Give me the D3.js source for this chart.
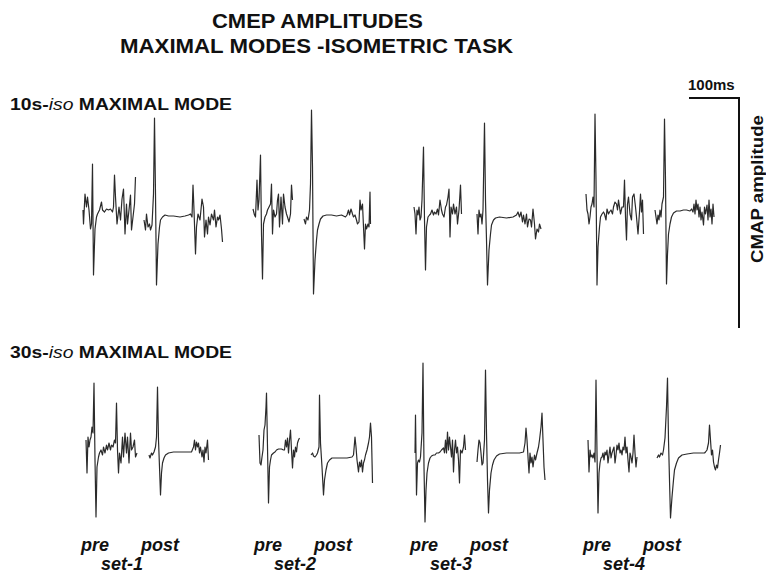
<!DOCTYPE html>
<html>
<head>
<meta charset="utf-8">
<script src="https://cdn.jsdelivr.net/npm/d3@7"></script>
<style>
  body { margin: 0; background: #fff; }
  text { font-family: "Liberation Sans", Arial, sans-serif; font-weight: bold; fill: #111; }
</style>
</head>
<body>
<svg width="766" height="578"></svg>
<script>
// categories
var rows = ["10s", "30s"];
var sets = ["set-1", "set-2", "set-3", "set-4"];
var phases = ["pre", "post"];

// traces: [time (ms), amplitude (a.u.)]
var iso10_set1_pre = [[0,2],[1,-12],[4,18],[7,5],[9,15],[12,2],[15,-17],[17,-12],[19,48],[21,-63],[24,-17],[27,-5],[29,-2],[33,2],[37,10],[39,2],[43,0],[47,3],[51,2],[55,3],[59,0],[61,5],[63,37],[65,15],[68,-12],[72,5],[75,-8],[78,13],[81,23],[84,-22],[87,8],[89,-12],[92,2],[95,17],[97,-18],[100,-5],[103,8],[105,35]];
var iso10_set1_post = [[0,-8],[3,-18],[5,-2],[8,-15],[11,-12],[13,-18],[16,-13],[19,18],[21,94],[23,18],[25,-73],[28,-32],[31,-15],[33,-8],[37,-5],[42,-3],[49,-4],[59,-4],[72,-5],[82,-4],[89,-3],[93,-2],[96,-5],[98,27],[100,2],[103,-42],[105,-15],[108,-2],[112,-8],[116,13],[119,5],[121,-25],[124,-8],[127,-22],[129,-5],[132,-13],[135,-2],[139,-8],[141,2],[144,-15],[147,-5],[149,-8],[152,-3],[155,-17],[157,-30]];
var iso10_set2_pre = [[0,3],[3,-3],[5,-5],[8,32],[10,2],[12,12],[15,57],[17,-22],[19,-67],[21,-12],[24,-5],[27,-2],[29,2],[32,5],[35,8],[37,28],[39,-22],[41,2],[44,-5],[47,-2],[49,12],[51,18],[53,-15],[56,15],[59,-12],[61,18],[64,5],[67,-2],[69,-5],[72,-10],[75,-2],[77,27],[79,12]];
var iso10_set2_post = [[0,-7],[3,-12],[5,-5],[8,-8],[11,2],[13,28],[15,102],[17,45],[19,-82],[22,-48],[25,-28],[27,-18],[30,-12],[33,-7],[38,-4],[45,-3],[55,-3],[65,-4],[75,-3],[83,-5],[86,-3],[89,2],[91,-3],[94,3],[97,-2],[99,-5],[102,-3],[105,-8],[107,-12],[110,-10],[112,12],[114,2],[117,8],[119,-15],[121,-37],[123,-12],[125,-17],[128,-12],[130,-15],[132,20],[133,-12]];
var iso10_set3_pre = [[0,5],[2,-2],[4,-22],[6,2],[8,-3],[10,5],[12,-8],[14,-5],[16,12],[19,65],[21,-8],[23,-58],[25,-15],[28,-5],[31,-3],[33,-2],[36,2],[39,-3],[41,0],[44,-2],[47,3],[49,-3],[52,12],[55,2],[57,-2],[60,-5],[63,5],[65,7],[68,15],[70,23],[72,-25],[74,5],[77,-2],[79,8],[82,-2],[85,5],[87,-12],[90,2],[93,27],[95,-2]];
var iso10_set3_post = [[0,-2],[2,-22],[4,2],[6,-5],[8,-2],[10,-12],[12,2],[15,89],[17,12],[19,-28],[21,-73],[24,-38],[27,-22],[29,-13],[33,-8],[37,-6],[45,-5],[59,-6],[72,-5],[79,-3],[82,0],[85,-5],[88,0],[91,-10],[93,-3],[96,-12],[99,-2],[101,-15],[104,-7],[107,-8],[109,-15],[112,3],[115,-12],[117,-27],[120,-17],[123,-20],[125,-12],[128,-17]];
var iso10_set4_pre = [[0,18],[2,2],[4,-2],[6,-12],[8,-5],[10,5],[12,8],[14,15],[16,5],[18,98],[20,32],[22,-73],[24,-35],[27,-15],[29,-5],[32,-2],[35,0],[37,-2],[40,-8],[42,3],[45,-2],[47,0],[50,2],[53,-2],[55,5],[58,10],[61,8],[63,2],[65,12],[67,5],[69,-2],[72,5],[75,5],[77,32],[79,-5],[81,-28],[83,8],[85,15],[88,-2],[91,-8],[93,15],[96,18],[99,5],[101,-5],[104,-22],[107,0],[109,18],[111,0],[113,12],[115,-22]];
var iso10_set4_post = [[0,2],[2,-5],[4,-12],[6,-3],[8,-8],[10,2],[12,-5],[14,8],[17,15],[19,93],[21,32],[23,-72],[25,-42],[27,-22],[30,-12],[33,-5],[37,-1],[43,1],[50,1],[57,2],[63,2],[70,1],[73,3],[76,0],[78,8],[80,-2],[82,12],[84,2],[86,8],[88,-5],[90,5],[92,-8],[94,0],[97,-13],[99,5],[101,-2],[104,7],[106,-8],[108,12],[110,-5],[112,3],[114,-12],[116,8],[118,-5]];

var iso30_set1_pre = [[0,12],[2,-21],[4,15],[6,5],[8,12],[10,15],[12,25],[14,19],[16,69],[18,-8],[20,-65],[22,-15],[25,-5],[27,-1],[30,2],[33,-3],[35,5],[38,-1],[41,7],[43,2],[46,9],[49,2],[51,7],[54,5],[57,12],[59,9],[61,49],[63,2],[65,-21],[67,-1],[70,-11],[73,15],[75,-5],[78,19],[81,-1],[83,15],[86,-11],[89,19],[91,2],[94,5],[97,12],[99,-5],[102,-1]];
var iso30_set1_post = [[0,-3],[2,-6],[5,-1],[7,-3],[10,0],[13,5],[15,15],[17,65],[19,12],[21,-15],[23,-43],[25,-21],[27,-11],[30,-6],[33,-3],[39,-1],[49,0],[62,0],[75,0],[85,0],[89,5],[91,12],[93,2],[95,10],[97,5],[99,9],[101,-1],[103,5],[106,-5],[108,2],[110,-10],[112,5],[114,-1],[117,12],[119,-8]];
var iso30_set2_pre = [[0,17],[2,-11],[4,-13],[6,-5],[8,2],[10,22],[12,27],[14,45],[15,59],[17,5],[19,-51],[21,-15],[23,-8],[25,-3],[29,-1],[32,0],[35,2],[39,3],[42,3],[45,3],[49,2],[51,2],[53,12],[55,5],[57,14],[59,-1],[61,12],[63,22],[65,2],[67,-16],[69,2],[71,-5],[73,5],[75,0],[77,9],[79,12],[81,14]];
var iso30_set2_post = [[0,-3],[3,-1],[5,-4],[8,-5],[11,-3],[13,-1],[16,5],[17,57],[19,9],[22,-15],[25,-43],[27,-28],[30,-18],[33,-11],[37,-8],[42,-6],[49,-6],[59,-6],[72,-6],[82,-5],[85,-3],[88,15],[90,5],[92,-8],[95,-20],[97,-10],[99,-15],[101,-8],[103,-20],[105,-11],[107,-8],[109,-3],[112,2],[115,9],[117,15],[119,29],[121,15],[123,-31]];
var iso30_set3_pre = [[0,-1],[1,37],[3,-43],[5,-11],[7,-8],[9,-10],[11,-5],[14,19],[16,89],[18,-15],[20,-70],[22,-38],[24,-21],[27,-11],[30,-6],[33,-4],[37,-3],[40,-3],[43,-1],[47,-1],[50,0],[53,2],[57,4],[59,-1],[61,12],[63,-1],[65,20],[67,2],[69,15],[71,5],[73,-5],[75,12],[77,-20],[79,2],[81,12],[83,-1],[85,5],[87,-8],[89,-31],[91,2],[94,-1],[97,5],[99,17],[101,2]];
var iso30_set3_post = [[0,-10],[2,2],[4,12],[6,9],[8,-1],[10,-13],[12,-11],[15,12],[17,82],[19,19],[21,-28],[23,-61],[25,-38],[28,-21],[31,-13],[34,-8],[39,-4],[45,-2],[59,-1],[72,-1],[85,-1],[93,0],[96,9],[98,24],[100,12],[102,-5],[104,-21],[106,-1],[108,-11],[110,-5],[112,-15],[115,-3],[117,-8],[120,-1],[123,5],[125,12],[128,25],[130,39],[132,12],[134,-15],[136,-28]];
var iso30_set4_pre = [[0,12],[2,-20],[4,2],[6,-5],[8,-3],[10,-6],[12,-1],[14,-10],[16,72],[18,-1],[20,-61],[22,-21],[24,-11],[26,-6],[28,-5],[30,-1],[32,-8],[34,0],[36,-3],[38,2],[40,-11],[42,-3],[44,5],[46,-6],[48,-1],[50,2],[52,5],[54,-11],[56,-3],[58,7],[60,2],[62,9],[64,-1],[66,2],[68,-3],[70,5],[72,2],[74,15],[76,-1],[78,5],[80,-8],[82,-20],[84,-1],[86,-5],[88,-11],[90,-1],[92,17],[94,-1],[96,-15],[98,-5]];
var iso30_set4_post = [[0,-6],[3,-3],[5,-5],[8,-1],[11,-3],[13,2],[16,14],[19,45],[21,74],[23,12],[25,-28],[27,-66],[30,-45],[33,-28],[35,-18],[39,-11],[43,-6],[50,-3],[60,-2],[73,-1],[87,-1],[95,-1],[97,0],[100,2],[103,9],[105,27],[107,12],[109,-3],[111,2],[113,-10],[115,-15],[117,-18],[119,-13],[121,-16],[123,-8],[125,-1],[127,7]];

var traces = [
  [[iso10_set1_pre, iso10_set1_post], [iso10_set2_pre, iso10_set2_post], [iso10_set3_pre, iso10_set3_post], [iso10_set4_pre, iso10_set4_post]],
  [[iso30_set1_pre, iso30_set1_post], [iso30_set2_pre, iso30_set2_post], [iso30_set3_pre, iso30_set3_post], [iso30_set4_pre, iso30_set4_post]]
];

// scale bar values
var barMs = 100, barAmp = 230;

// layout (pixels)
var rowBase = [212, 452];
var traceX = [
  [[83, 144], [253, 304], [414, 477], [586, 655]],
  [[86, 149], [259, 311], [415, 477], [588, 657]]
];
var msPx = 0.5; // 100ms = 50px

var svg = d3.select("svg");

// titles
svg.append("text").attr("x", 212).attr("y", 28)
  .attr("font-size", "20px").attr("textLength", 211).attr("lengthAdjust", "spacingAndGlyphs")
  .text("CMEP AMPLITUDES");
svg.append("text").attr("x", 120).attr("y", 53)
  .attr("font-size", "20px").attr("textLength", 393).attr("lengthAdjust", "spacingAndGlyphs")
  .text("MAXIMAL MODES -ISOMETRIC TASK");

// row labels
var rowLabelY = [110, 358];
rows.forEach(function(r, i) {
  var t = svg.append("text").attr("x", 10).attr("y", rowLabelY[i])
    .attr("font-size", "17px").attr("textLength", 222).attr("lengthAdjust", "spacingAndGlyphs");
  t.append("tspan").text(r + "-");
  t.append("tspan").attr("font-style", "italic").attr("font-weight", "normal").text("iso");
  t.append("tspan").text(" MAXIMAL MODE");
});

// traces
var line = d3.line();
traces.forEach(function(row, ri) {
  var y = d3.scaleLinear().domain([-barAmp / 2, barAmp / 2])
    .range([rowBase[ri] + barAmp / 2, rowBase[ri] - barAmp / 2]);
  row.forEach(function(pair, si) {
    pair.forEach(function(data, pi) {
      var x0 = traceX[ri][si][pi];
      var x = d3.scaleLinear().domain([0, 100]).range([x0, x0 + 100 * msPx]);
      line.x(function(d) { return x(d[0]); }).y(function(d) { return y(d[1]); });
      svg.append("path")
        .datum(data)
        .attr("d", line)
        .attr("fill", "none")
        .attr("stroke", "#2b2b2b")
        .attr("stroke-width", 1.2)
        .attr("stroke-linejoin", "round");
    });
  });
});

// bottom labels
sets.forEach(function(s, si) {
  var x0 = traceX[1][si][0];
  phases.forEach(function(p, pi) {
    svg.append("text").attr("x", x0 + (pi === 0 ? -5 : 55)).attr("y", 551)
      .attr("font-size", "18px").attr("font-style", "italic").text(p);
  });
  svg.append("text").attr("x", x0 + 15).attr("y", 570)
    .attr("font-size", "18px").attr("font-style", "italic").text(s);
});

// scale bar
var bx = d3.scaleLinear().domain([0, barMs]).range([689, 689 + barMs * msPx]);
var by = d3.scaleLinear().domain([0, barAmp]).range([98, 98 + barAmp]);
svg.append("path")
  .attr("d", "M" + bx(0) + "," + by(0) + "H" + bx(barMs) + "V" + by(barAmp))
  .attr("fill", "none").attr("stroke", "#111").attr("stroke-width", 2);
svg.append("text").attr("x", 688).attr("y", 90)
  .attr("font-size", "15px").text(barMs + "ms");
svg.append("text")
  .attr("transform", "translate(763,189) rotate(-90)")
  .attr("text-anchor", "middle")
  .attr("font-size", "17px").attr("textLength", 148).attr("lengthAdjust", "spacingAndGlyphs")
  .text("CMAP amplitude");
</script>
</body>
</html>
